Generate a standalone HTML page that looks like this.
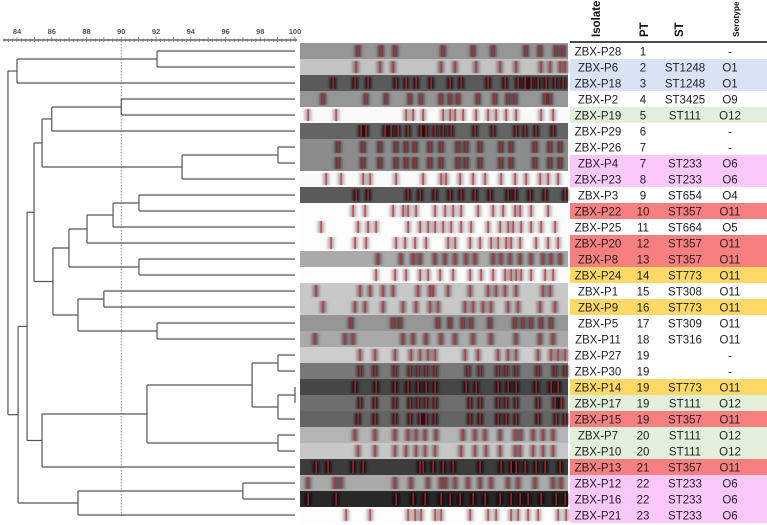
<!DOCTYPE html>
<html><head><meta charset="utf-8"><style>
html,body{margin:0;padding:0;background:#fff;}
body{width:767px;height:525px;overflow:hidden;position:relative;font-family:"Liberation Sans",sans-serif;}
svg{position:absolute;left:0;top:0;}
</style></head><body>
<svg id="fig" width="767" height="525" xmlns="http://www.w3.org/2000/svg">
<defs>
<filter id="blur" x="-50%" y="-10%" width="200%" height="120%"><feGaussianBlur stdDeviation="1.6 0.6"/></filter>
</defs>
<g id="axis"></g>
<g id="tree"></g>
<g id="gel"></g>
<g id="table"></g>
</svg>
<script>
const isolates=["ZBX-P28","ZBX-P6","ZBX-P18","ZBX-P2","ZBX-P19","ZBX-P29","ZBX-P26","ZBX-P4","ZBX-P23","ZBX-P3","ZBX-P22","ZBX-P25","ZBX-P20","ZBX-P8","ZBX-P24","ZBX-P1","ZBX-P9","ZBX-P5","ZBX-P11","ZBX-P27","ZBX-P30","ZBX-P14","ZBX-P17","ZBX-P15","ZBX-P7","ZBX-P10","ZBX-P13","ZBX-P12","ZBX-P16","ZBX-P21"];
const pts=["1","2","3","4","5","6","7","7","8","9","10","11","12","13","14","15","16","17","18","19","19","19","19","19","20","20","21","22","22","23"];
const sts=["","ST1248","ST1248","ST3425","ST111","","","ST233","ST233","ST654","ST357","ST664","ST357","ST357","ST773","ST308","ST773","ST309","ST316","","","ST773","ST111","ST357","ST111","ST111","ST357","ST233","ST233","ST233"];
const serotypes=["-","O1","O1","O9","O12","-","-","O6","O6","O4","O11","O5","O11","O11","O11","O11","O11","O11","O11","-","-","O11","O12","O11","O12","O12","O11","O6","O6","O6"];
// merges: [childA, childB, similarity %]; leaves are 0..29, internal nodes 30+
const merges=[[0,1,92.06],[30,2,84.0],[3,4,90.0],[32,5,86.0],[6,7,99.02],[34,8,93.5],[33,35,85.44],[9,10,91.02],[37,11,89.53],[38,12,88.03],[13,14,91.02],[39,40,86.99],[15,16,89.0],[17,18,92.06],[42,43,87.51],[41,44,86.07],[36,45,84.98],[19,20,99.02],[21,22,100],[48,23,99.02],[47,49,97.53],[24,25,99.02],[50,51,91.48],[52,26,85.44],[46,53,84.58],[27,28,97.0],[55,29,87.51],[54,56,84.06],[31,57,83.48]];
const axisTicks=[84,86,88,90,92,94,96,98,100];
const cutoff=90;
const laneGray=[150,195,90,150,250,100,140,140,250,90,252,252,252,170,252,200,200,150,170,205,120,70,110,100,180,200,60,170,40,252];
const bands=[
[60,83,97,145,175,195,228,242,258,265],
[58,82,95,143,157,178,202,218,243,252,262,267],
[35,57,70,98,108,118,133,152,163,190,207,220,227,233,240,248,257,265],
[25,68,88,112,123,143,152,160,180,197,210,217,247,252],
[10,38,108,115,125,145,152,157,165,178,190,198,208,218,243,255],
[63,68,87,93,100,110,123,128,137,145,153,177,195,218,227,238,255],
[40,65,82,98,108,117,132,143,160,168,182,203,213,237,252,262],
[40,65,82,98,108,117,132,143,160,168,182,203,213,237,252,262],
[28,43,65,72,98,125,143,148,162,175,187,203,217,228,242,250,260],
[58,70,110,122,137,152,163,177,192,210,217,232,247,267],
[55,67,95,105,110,118,137,147,155,163,180,195,205,217,222,233,250],
[23,60,70,78,110,122,130,137,145,153,163,173,190,202,210,215,223,233,243,257],
[33,57,68,98,107,117,128,150,157,172,182,193,200,208,213,222,238,250,260],
[80,103,115,122,137,147,157,168,177,195,203,212,222,233,245,253,262],
[78,97,108,122,130,142,155,172,183,195,207,213,218,223,233,247,255],
[18,62,72,85,95,120,132,135,150,172,190,198,207,218,245,252],
[25,57,67,85,105,118,132,140,167,175,185,193,210,220,242,257],
[53,95,102,140,152,165,173,192,217,225,233,243,253],
[17,47,55,105,115,128,143,157,175,193,218,242,255],
[62,77,97,113,122,130,137,167,180,200,210,218,240,253,260,267],
[62,77,97,112,120,128,137,170,182,200,208,218,240,257,267],
[57,78,97,110,120,128,137,168,178,200,210,218,238,253,260],
[62,77,97,112,120,128,137,172,182,200,208,218,240,257,263],
[60,77,97,112,122,128,137,172,182,200,208,218,240,258,267],
[57,77,97,110,118,127,138,165,177,187,202,217,223,235,245,255],
[60,77,97,108,118,127,137,163,177,188,202,217,222,235,245,255],
[18,30,55,65,122,125,135,145,155,182,203,213,218,227,238,247,262],
[10,37,43,97,113,130,143,148,157,170,182,193,210,220,237,255,263],
[10,38,98,115,127,143,152,162,175,187,202,213,222,230,243,258,267],
[48,72,110,117,123,137,143,172,190,198,213,220,230,240,260,268]];
const rowColor={"ST1248":"#dae3f3","ST111":"#e2efda","ST233":"#fbc8fb","ST357":"#f77f7f","ST773":"#ffd966"};

const NS="http://www.w3.org/2000/svg";
function mk(tag,attrs,parent){const e=document.createElementNS(NS,tag);for(const k in attrs)e.setAttribute(k,attrs[k]);parent.appendChild(e);return e;}
const xScale=v=>17+(v-84)*17.375;
const rowY=i=>51+i*16;

// axis
const ax=document.getElementById('axis');
const axLine=mk('line',{x1:3,x2:297,y1:40,y2:40,stroke:'#666','stroke-width':1.5},ax);


for(let v=83.25;v<=100.001;v+=0.25){
  const x=xScale(v);const major=Math.abs(v-Math.round(v))<1e-6;
  const t=mk('line',{x1:x,x2:x,y1:major?37:38.5,y2:42,stroke:'#777','stroke-width':0.8},ax);
  
  
}
axisTicks.forEach(v=>{
  const t=mk('text',{x:xScale(v),y:34,'text-anchor':'middle','font-size':7.5,'font-weight':'bold',fill:'#555'},ax);
  t.textContent=String(v);
  
  
});
const cut=mk('line',{x1:xScale(cutoff),x2:xScale(cutoff),y1:41,y2:516,stroke:'#777','stroke-width':0.8,'stroke-dasharray':'1.5,1.5'},ax);



// tree
const tr=document.getElementById('tree');
const nodeY={},nodeX={};
for(let i=0;i<isolates.length;i++){nodeY[i]=rowY(i);nodeX[i]=xScale(100);}
merges.forEach((m,k)=>{
  const id=isolates.length+k;const x=xScale(m[2]);
  const [a,b]=m;
  [a,b].forEach(c=>{
    const h=mk('line',{x1:x,x2:nodeX[c],y1:nodeY[c],y2:nodeY[c],stroke:'#555','stroke-width':1.2},tr);
    
    
  });
  const v=mk('line',{x1:x,x2:x,y1:nodeY[a],y2:nodeY[b],stroke:'#555','stroke-width':1.2},tr);
  
  
  nodeX[id]=x;nodeY[id]=(nodeY[a]+nodeY[b])/2;
});

// gel
const gel=document.getElementById('gel');
const GX=300,GW=268;
laneGray.forEach((g,i)=>{
  const y=43+i*16;
  const lane=mk('g',{},gel);
  
  
  mk('rect',{x:GX,y:y,width:GW,height:16,fill:`rgb(${g},${g},${g})`},lane);
  const bg=mk('g',{filter:'url(#blur)'},lane);
  bands[i].forEach(p=>{
    const d=Math.max(0,g-110);
    mk('rect',{x:298+p-3,y:y+2,width:6,height:12,fill:`rgb(${d},${d},${d})`,opacity:0.75},bg);
  });
  bands[i].forEach(p=>{
    const r=mk('rect',{x:298+p-0.5,y:y+2,width:1.2,height:12,fill:'#e0202a'},lane);
    
    
  });
});

// table
const tb=document.getElementById('table');
const hdrs=[["Isolate",600,11.5],["PT",648,11.5],["ST",683,11.5],["Serotype",739,8.3]];
hdrs.forEach(h=>{
  const t=mk('text',{x:0,y:0,transform:`translate(${h[1]},37) rotate(-90)`,'font-size':h[2],'font-weight':'bold',fill:'#111'},tb);
  t.textContent=h[0];
  
  
});
const rule=mk('line',{x1:570,x2:767,y1:42,y2:42,stroke:'#111','stroke-width':1.6},tb);


isolates.forEach((iso,i)=>{
  const y=43+i*16;
  const row=mk('g',{},tb);
  
  
  const c=rowColor[sts[i]];
  if(c) mk('rect',{x:570,y:y,width:197,height:16,fill:c},row);
  [[iso,598],[pts[i],643],[sts[i],685],[serotypes[i],730]].forEach(cell=>{
    const t=mk('text',{x:cell[1],y:y+12.5,'text-anchor':'middle','font-size':11.5,fill:'#222'},row);
    t.textContent=cell[0];
    
    
  });
});
</script>
</body></html>
